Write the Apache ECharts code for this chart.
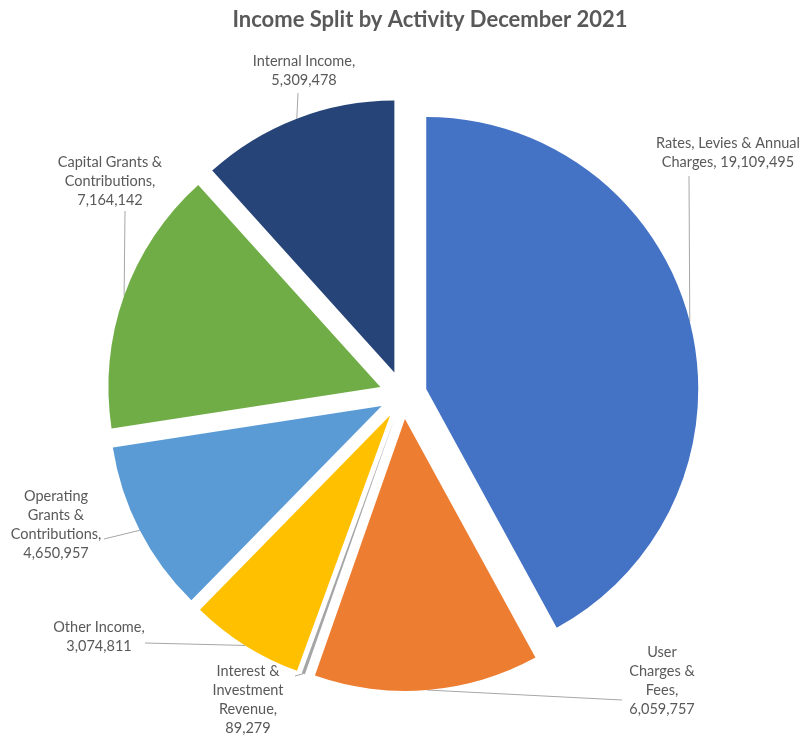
<!DOCTYPE html>
<html>
<head>
<meta charset="utf-8">
<title>Income Split by Activity December 2021</title>
<script src="https://cdn.jsdelivr.net/npm/echarts@6/dist/echarts.min.js"></script>
<style>
  html, body { margin: 0; padding: 0; background: #fff; }
  #chart { width: 800px; height: 738px; }
</style>
</head>
<body>
<div id="chart"></div>
<script>
// Income categories, in clockwise order from 12 o'clock (names wrapped as shown)
const categories = [
  'Rates, Levies & Annual\nCharges',
  'User\nCharges &\nFees',
  'Interest &\nInvestment\nRevenue',
  'Other Income',
  'Operating\nGrants &\nContributions',
  'Capital Grants &\nContributions',
  'Internal Income'
];
// Income amounts for December 2021
const amounts = [19109495, 6059757, 89279, 3074811, 4650957, 7164142, 5309478];
// Separator between a category name and its amount in the label
const valueSeparators = [' ', '\n', '\n', '\n', '\n', '\n', '\n'];

const sliceColors = ['#4472C4', '#ED7D31', '#A5A5A5', '#FFC000', '#5B9BD5', '#70AD47', '#264478'];

// Label block placement: centre x, top y
const labelSpots = [
  [728, 134], [662, 643], [248, 662], [99, 618], [56, 487], [110, 153], [304, 52]
];
// Where each leader line meets its label
const leaderEnds = [
  [689, 176], [622, 700], [295, 676], [145, 643], [104, 539], [125, 211], [298, 93]
];

const PIE_CENTER = [403, 395];
const PIE_RADIUS = 272;
const EXPLODE = 24;
const TEXT_COLOR = '#595959';
const LEADER_COLOR = '#A6A6A6';

const chart = echarts.init(document.getElementById('chart'), null, { renderer: 'canvas' });
const fmt = v => v.toLocaleString('en-US');

chart.setOption({
  animation: false,
  title: {
    text: 'Income Split by Activity December 2021',
    left: 425,
    top: 4,
    textAlign: 'center',
    textStyle: { fontFamily: 'Lato', fontSize: 22, fontWeight: 'bold', color: TEXT_COLOR }
  },
  series: [{
    type: 'pie',
    center: PIE_CENTER,
    radius: PIE_RADIUS,
    startAngle: 90,
    clockwise: true,
    selectedMode: 'multiple',
    selectedOffset: EXPLODE,
    avoidLabelOverlap: false,
    emphasis: { disabled: true },
    itemStyle: { borderWidth: 0 },
    label: { show: false },
    labelLine: { show: false },
    data: categories.map((name, i) => ({
      name: name,
      value: amounts[i],
      selected: true,
      itemStyle: { color: sliceColors[i] }
    }))
  }]
});

// Slice geometry from the pie's own layout (falls back to the same proportional rule)
function sliceGeometry(i) {
  let layout = null;
  try {
    layout = chart.getModel().getSeriesByIndex(0).getData().getItemLayout(i);
  } catch (e) { layout = null; }
  if (layout && layout.r != null) {
    return { cx: layout.cx, cy: layout.cy, r: layout.r, mid: (layout.startAngle + layout.endAngle) / 2 };
  }
  const total = amounts.reduce((a, b) => a + b, 0);
  const before = amounts.slice(0, i).reduce((a, b) => a + b, 0);
  const start = -Math.PI / 2 + before / total * Math.PI * 2;
  const end = start + amounts[i] / total * Math.PI * 2;
  return { cx: PIE_CENTER[0], cy: PIE_CENTER[1], r: PIE_RADIUS, mid: (start + end) / 2 };
}

// Data labels with leader lines from each exploded slice's outer edge midpoint
const elements = [];
categories.forEach((name, i) => {
  const g = sliceGeometry(i);
  const ax = g.cx + Math.cos(g.mid) * (EXPLODE + g.r);
  const ay = g.cy + Math.sin(g.mid) * (EXPLODE + g.r);
  elements.push({
    type: 'line',
    silent: true,
    shape: { x1: ax, y1: ay, x2: leaderEnds[i][0], y2: leaderEnds[i][1] },
    style: { stroke: LEADER_COLOR, lineWidth: 1 }
  });
  elements.push({
    type: 'text',
    silent: true,
    x: labelSpots[i][0],
    y: labelSpots[i][1],
    style: {
      text: name + ',' + valueSeparators[i] + fmt(amounts[i]),
      font: '14.5px Lato',
      lineHeight: 19,
      fill: TEXT_COLOR,
      textAlign: 'center',
      textVerticalAlign: 'top'
    }
  });
});
chart.setOption({ graphic: { elements: elements } });
</script>
</body>
</html>
